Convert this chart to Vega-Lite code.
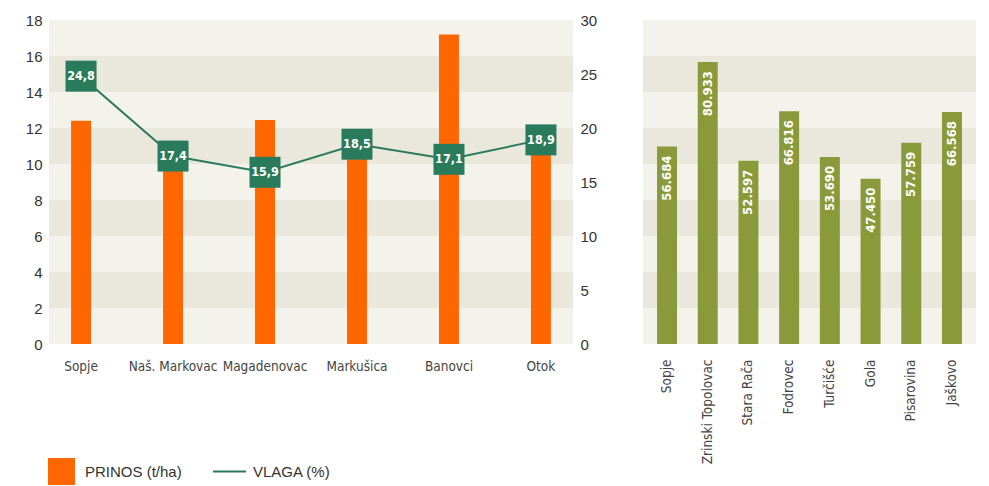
{
  "$schema": "https://vega.github.io/schema/vega-lite/v6.json",
  "background": "white",
  "padding": {"left": 25, "top": 13, "right": 5, "bottom": 0},
  "spacing": 46,
  "config": {
    "view": {"fill": "#f3f2eb", "stroke": null},
    "font": "Liberation Sans",
    "axis": {"domain": false, "ticks": false, "grid": false, "labelFont": "Liberation Sans", "labelFontSize": 15, "labelColor": "#333333", "title": null}
  },
  "datasets": {
    "bands": [{"lo": 2, "hi": 4}, {"lo": 6, "hi": 8}, {"lo": 10, "hi": 12}, {"lo": 14, "hi": 16}],
    "left": [
      {"site": "Sopje", "prinos": 12.4, "vlaga": 24.8},
      {"site": "Naš. Markovac", "prinos": 10.9, "vlaga": 17.4},
      {"site": "Magadenovac", "prinos": 12.45, "vlaga": 15.9},
      {"site": "Markušica", "prinos": 10.3, "vlaga": 18.5},
      {"site": "Banovci", "prinos": 17.2, "vlaga": 17.1},
      {"site": "Otok", "prinos": 11.1, "vlaga": 18.9}
    ],
    "right": [
      {"site": "Sopje", "val": 56.684},
      {"site": "Zrinski Topolovac", "val": 80.933},
      {"site": "Stara Rača", "val": 52.597},
      {"site": "Fodrovec", "val": 66.816},
      {"site": "Turčišće", "val": 53.69},
      {"site": "Gola", "val": 47.45},
      {"site": "Pisarovina", "val": 57.759},
      {"site": "Jaškovo", "val": 66.568}
    ]
  },
  "hconcat": [
    {
      "width": 524,
      "height": 324,
      "layer": [
        {
          "data": {"name": "bands"},
          "mark": {"type": "rect", "color": "#eae8dd"},
          "encoding": {
            "y": {"field": "lo", "type": "quantitative", "scale": {"domain": [0, 18], "nice": false}, "axis": null},
            "y2": {"field": "hi"}
          }
        },
        {
          "data": {"name": "left"},
          "mark": {"type": "bar", "color": "#ff6600"},
          "encoding": {
            "x": {"field": "site", "type": "nominal", "sort": null, "scale": {"paddingInner": 0.783, "paddingOuter": 0.24},
              "axis": {"labelAngle": 0, "labelFont": "DejaVu Sans Condensed", "labelFontSize": 13.5, "labelPadding": 15, "labelColor": "#444444"}},
            "y": {"field": "prinos", "type": "quantitative", "scale": {"domain": [0, 18], "nice": false},
              "axis": {"orient": "left", "values": [0, 2, 4, 6, 8, 10, 12, 14, 16, 18], "labelPadding": 7}},
            "color": {"datum": "PRINOS (t/ha)", "type": "nominal",
              "scale": {"domain": ["PRINOS (t/ha)", "VLAGA (%)"], "range": ["#ff6600", "#2a7b5c"]},
              "legend": {
                "orient": "none", "legendX": -1, "legendY": 438, "direction": "horizontal", "title": null,
                "labelFont": "Liberation Sans", "labelFontSize": 15, "labelColor": "#333333",
                "symbolType": "square", "symbolSize": 625, "labelOffset": 10, "columnPadding": 27,
                "encode": {
                  "symbols": {
                    "update": {
                      "shape": {"signal": "datum.value === 'VLAGA (%)' ? 'M-1.32,0H1.32M0,-1M0,1' : 'square'"},
                      "size": {"value": 625},
                      "fill": {"signal": "datum.value === 'VLAGA (%)' ? 'transparent' : '#ff6600'"},
                      "stroke": {"signal": "datum.value === 'VLAGA (%)' ? '#2a7b5c' : 'transparent'"},
                      "strokeWidth": {"value": 2},
                      "opacity": {"value": 1}
                    }
                  }
                }
              }
            }
          }
        },
        {
          "data": {"name": "left"},
          "encoding": {
            "x": {"field": "site", "type": "nominal", "sort": null},
            "y": {"field": "vlaga", "type": "quantitative", "scale": {"domain": [0, 30], "nice": false},
              "axis": {"orient": "right", "values": [0, 5, 10, 15, 20, 25, 30], "labelPadding": 7}}
          },
          "layer": [
            {"mark": {"type": "line", "strokeWidth": 2}, "encoding": {"color": {"datum": "VLAGA (%)", "type": "nominal"}}},
            {"mark": {"type": "square", "size": 961, "color": "#2a7b5c", "opacity": 1, "filled": true}},
            {"mark": {"type": "text", "color": "white", "font": "DejaVu Sans Condensed", "fontWeight": "bold", "fontSize": 12.5, "align": "center", "baseline": "middle",
              "text": {"expr": "replace(format(datum.vlaga, '.1f'), '.', ',')"}}}
          ]
        }
      ],
      "resolve": {"scale": {"y": "independent"}}
    },
    {
      "width": 333,
      "height": 324,
      "layer": [
        {
          "data": {"name": "bands"},
          "mark": {"type": "rect", "color": "#eae8dd"},
          "encoding": {
            "y": {"field": "lo", "type": "quantitative", "scale": {"domain": [0, 18], "nice": false}, "axis": null},
            "y2": {"field": "hi"}
          }
        },
        {
          "data": {"name": "right"},
          "encoding": {
            "x": {"field": "site", "type": "nominal", "sort": null, "scale": {"paddingInner": 0.509, "paddingOuter": 0.345},
              "axis": {"labelAngle": -90, "labelFont": "DejaVu Sans Condensed", "labelFontSize": 13.5, "labelPadding": 15, "labelColor": "#444444"}},
            "y": {"field": "val", "type": "quantitative", "scale": {"domain": [0, 93], "nice": false}, "axis": null}
          },
          "layer": [
            {"mark": {"type": "bar", "color": "#8a9a3a"}},
            {"mark": {"type": "text", "angle": 270, "align": "right", "baseline": "middle", "dx": -9, "color": "white",
              "font": "DejaVu Sans Condensed", "fontWeight": "bold", "fontSize": 13},
              "encoding": {"text": {"field": "val", "type": "quantitative", "format": ".3f"}}}
          ]
        }
      ],
      "resolve": {"scale": {"y": "independent"}}
    }
  ]
}
